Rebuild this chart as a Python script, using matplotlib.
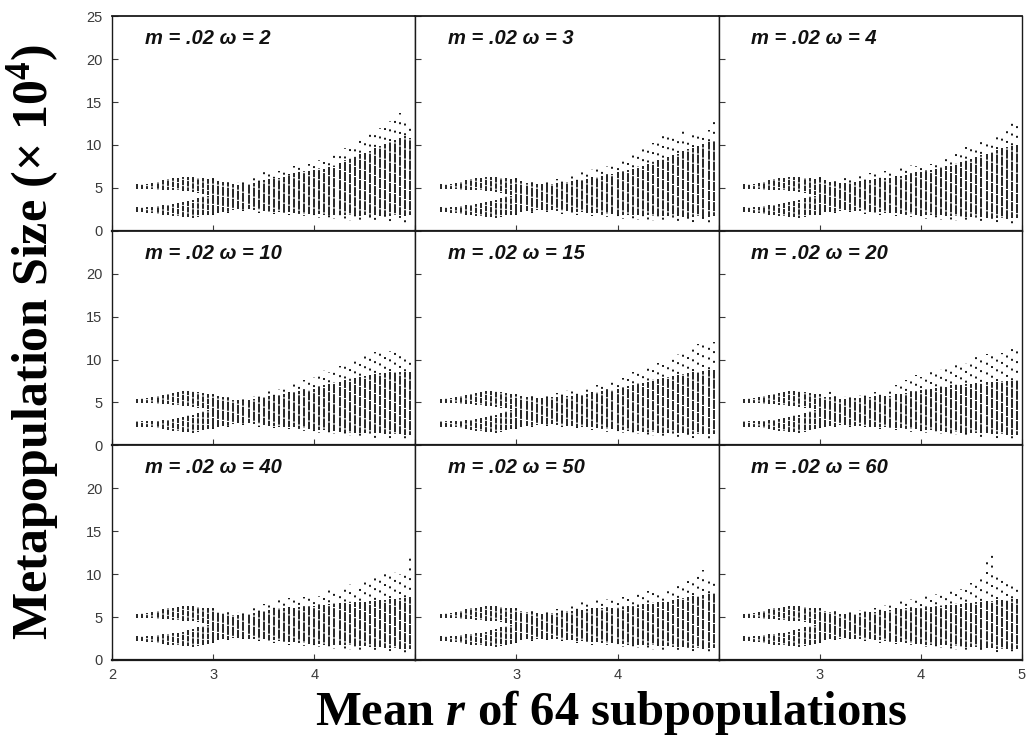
import matplotlib.pyplot as plt

plt.rcParams['mathtext.fontset'] = 'custom'
plt.rcParams['mathtext.rm'] = 'Liberation Serif:bold'
plt.rcParams['mathtext.it'] = 'Liberation Serif:italic:bold'
plt.rcParams['mathtext.bf'] = 'Liberation Serif:bold'

omegas = [2, 3, 4, 10, 15, 20, 40, 50, 60]

# left part: the two separate bands (same in every panel)
r_split = [2.25, 2.30, 2.35, 2.40, 2.45, 2.50, 2.55, 2.60, 2.65, 2.70,
           2.75, 2.80, 2.85, 2.90, 2.95]
low_band_bot = [2.2, 2.2, 2.1, 2.1, 2.0, 1.9, 1.8, 1.7, 1.7, 1.6, 1.6, 1.5, 1.6, 1.8, 1.9]
low_band_top = [2.8, 2.8, 2.8, 2.8, 2.9, 3.0, 3.0, 3.1, 3.2, 3.3, 3.5, 3.6, 3.8, 4.0, 4.1]
up_band_bot = [4.9, 4.9, 4.9, 4.9, 4.8, 4.8, 4.8, 4.7, 4.7, 4.6, 4.6, 4.5, 4.4, 4.3, 4.2]
up_band_top = [5.4, 5.5, 5.5, 5.6, 5.7, 5.9, 6.0, 6.1, 6.2, 6.3, 6.3, 6.3, 6.2, 6.1, 6.0]

# right part: one column per r value
r_main = [3.00, 3.05, 3.10, 3.15, 3.20, 3.25, 3.30, 3.35, 3.40, 3.45,
          3.50, 3.55, 3.60, 3.65, 3.70, 3.75, 3.80, 3.85, 3.90, 3.95,
          4.00, 4.05, 4.10, 4.15, 4.20, 4.25, 4.30, 4.35, 4.40, 4.45,
          4.50, 4.55, 4.60, 4.65, 4.70, 4.75, 4.80, 4.85, 4.90, 4.95]

# lo/hi = dense part of the column, bot/top = scattered extremes
lo_w2 = [2.0, 2.1, 2.2, 2.3, 2.4, 2.5, 2.5, 2.5, 2.4, 2.4, 2.3, 2.3, 2.2, 2.2, 2.2, 2.2, 2.1, 2.1, 2.0, 2.0,
         2.0, 2.0, 1.9, 1.9, 1.8, 1.9, 1.8, 1.8, 1.8, 1.7, 1.8, 1.7, 1.8, 1.7, 1.8, 1.7, 1.8, 1.8, 1.7, 1.8]
hi_w2 = [5.9, 5.8, 5.7, 5.5, 5.4, 5.3, 5.4, 5.5, 5.6, 5.7, 5.9, 6.0, 6.1, 6.2, 6.3, 6.5, 6.7, 6.8, 6.9, 7.0,
         7.1, 7.2, 7.2, 7.4, 7.6, 7.9, 8.2, 8.4, 8.7, 8.9, 9.1, 9.3, 9.6, 9.9, 10.1, 10.3, 10.6, 10.8, 11.0, 10.8]
bot_w2 = [1.9, 2.0, 2.0, 2.1, 2.2, 2.3, 2.3, 2.2, 2.2, 2.1, 2.1, 2.0, 2.0, 1.9, 1.9, 1.8, 1.8, 1.7, 1.7, 1.6,
          1.6, 1.5, 1.5, 1.4, 1.4, 1.3, 1.3, 1.2, 1.2, 1.1, 1.1, 1.0, 1.1, 1.0, 1.2, 1.0, 1.1, 1.0, 0.9, 1.0]
top_w2 = [6.2, 6.1, 5.9, 5.8, 5.7, 5.7, 5.9, 6.2, 6.4, 6.6, 6.9, 7.2, 6.8, 7.0, 7.4, 7.2, 7.5, 7.6, 7.4, 7.8,
          8.0, 8.3, 8.0, 8.6, 8.9, 9.2, 9.6, 9.9, 10.4, 10.6, 10.9, 11.3, 11.6, 12.0, 12.5, 12.8, 13.3, 13.7, 12.9, 12.4]

lo_w3 = [2.1, 2.2, 2.3, 2.3, 2.4, 2.4, 2.4, 2.4, 2.3, 2.3, 2.3, 2.2, 2.2, 2.2, 2.1, 2.1, 2.1, 2.0, 2.0, 2.0,
         1.9, 1.9, 1.9, 1.8, 1.8, 1.8, 1.8, 1.7, 1.7, 1.7, 1.7, 1.6, 1.7, 1.6, 1.6, 1.6, 1.7, 1.6, 1.6, 1.7]
hi_w3 = [5.9, 5.8, 5.6, 5.5, 5.5, 5.4, 5.5, 5.5, 5.6, 5.6, 5.7, 5.8, 5.8, 5.9, 6.0, 6.1, 6.3, 6.4, 6.5, 6.6,
         6.8, 6.9, 7.1, 7.2, 7.4, 7.6, 7.8, 8.0, 8.2, 8.4, 8.6, 8.8, 9.0, 9.3, 9.5, 9.7, 9.9, 10.1, 10.3, 10.5]
bot_w3 = [1.9, 2.0, 2.1, 2.1, 2.2, 2.2, 2.2, 2.1, 2.1, 2.0, 2.0, 1.9, 1.9, 1.8, 1.8, 1.7, 1.7, 1.6, 1.6, 1.5,
          1.5, 1.4, 1.4, 1.3, 1.3, 1.2, 1.2, 1.2, 1.1, 1.1, 1.1, 1.0, 1.0, 1.0, 0.9, 0.9, 1.0, 0.9, 0.9, 1.0]
top_w3 = [6.1, 6.4, 5.9, 5.8, 5.8, 5.7, 5.8, 5.9, 6.0, 6.0, 6.2, 6.4, 6.5, 6.8, 7.0, 7.2, 7.4, 7.5, 7.6, 7.8,
          8.0, 8.3, 8.5, 8.8, 9.3, 9.6, 10.0, 10.2, 10.6, 11.0, 11.2, 11.4, 11.2, 11.6, 11.0, 11.3, 11.0, 11.4, 11.8, 13.1]

lo_w4 = [2.1, 2.2, 2.2, 2.3, 2.3, 2.4, 2.4, 2.3, 2.3, 2.3, 2.2, 2.2, 2.2, 2.1, 2.1, 2.1, 2.0, 2.0, 2.0, 1.9,
         1.9, 1.9, 1.8, 1.8, 1.8, 1.7, 1.7, 1.7, 1.7, 1.6, 1.6, 1.6, 1.6, 1.5, 1.5, 1.5, 1.5, 1.5, 1.5, 1.5]
hi_w4 = [6.0, 5.9, 5.7, 5.6, 5.6, 5.6, 5.7, 5.7, 5.8, 5.8, 5.9, 6.0, 6.0, 6.1, 6.2, 6.3, 6.4, 6.5, 6.6, 6.8,
         6.9, 7.0, 7.1, 7.2, 7.3, 7.5, 7.6, 7.8, 8.0, 8.2, 8.4, 8.6, 8.8, 9.0, 9.2, 9.4, 9.6, 9.8, 9.9, 10.0]
bot_w4 = [1.9, 2.0, 2.0, 2.1, 2.1, 2.2, 2.2, 2.1, 2.1, 2.0, 2.0, 1.9, 1.9, 1.8, 1.8, 1.7, 1.7, 1.6, 1.6, 1.5,
          1.5, 1.4, 1.4, 1.4, 1.3, 1.3, 1.2, 1.2, 1.1, 1.1, 1.1, 1.0, 1.0, 1.0, 0.9, 0.9, 0.9, 0.9, 0.8, 0.9]
top_w4 = [6.3, 6.2, 6.0, 5.9, 6.0, 6.2, 6.6, 6.3, 6.4, 6.4, 6.7, 6.9, 6.8, 7.0, 7.1, 7.0, 7.3, 7.3, 7.7, 7.5,
          7.6, 7.9, 7.8, 8.0, 8.2, 8.5, 8.6, 9.0, 9.4, 9.8, 9.6, 10.0, 10.4, 10.3, 10.8, 11.2, 11.0, 11.6, 13.1, 12.4]

lo_w10 = [2.1, 2.2, 2.3, 2.4, 2.5, 2.6, 2.6, 2.6, 2.5, 2.5, 2.4, 2.3, 2.3, 2.2, 2.2, 2.1, 2.1, 2.0, 2.0, 1.9,
          1.9, 1.8, 1.8, 1.7, 1.7, 1.6, 1.6, 1.5, 1.5, 1.5, 1.4, 1.4, 1.4, 1.4, 1.3, 1.3, 1.3, 1.3, 1.2, 1.2]
hi_w10 = [5.8, 5.7, 5.6, 5.4, 5.3, 5.3, 5.2, 5.3, 5.4, 5.5, 5.6, 5.7, 5.8, 5.9, 6.0, 6.1, 6.2, 6.3, 6.4, 6.5,
          6.6, 6.8, 7.0, 7.1, 7.3, 7.4, 7.6, 7.7, 7.8, 8.0, 8.1, 8.2, 8.3, 8.4, 8.4, 8.5, 8.5, 8.6, 8.5, 8.6]
bot_w10 = [1.9, 2.0, 2.1, 2.2, 2.3, 2.4, 2.4, 2.3, 2.3, 2.2, 2.2, 2.1, 2.0, 2.0, 1.9, 1.9, 1.8, 1.7, 1.7, 1.6,
           1.5, 1.5, 1.4, 1.3, 1.3, 1.2, 1.2, 1.1, 1.0, 1.0, 0.9, 0.9, 0.8, 0.8, 0.9, 0.8, 0.8, 0.9, 0.8, 0.8]
top_w10 = [6.0, 5.9, 5.8, 5.6, 5.5, 5.5, 5.5, 5.6, 5.7, 5.8, 6.0, 6.3, 6.4, 6.6, 6.8, 7.0, 7.3, 7.2, 7.6, 7.8,
           8.0, 8.4, 8.8, 8.6, 9.0, 9.2, 9.4, 9.6, 9.8, 10.2, 10.4, 10.6, 10.9, 11.0, 10.8, 11.0, 10.9, 10.7, 10.9, 10.4]

lo_w15 = [2.1, 2.2, 2.3, 2.4, 2.4, 2.5, 2.5, 2.5, 2.4, 2.4, 2.3, 2.3, 2.2, 2.2, 2.1, 2.1, 2.0, 2.0, 1.9, 1.9,
          1.8, 1.8, 1.7, 1.7, 1.7, 1.6, 1.6, 1.6, 1.5, 1.5, 1.5, 1.4, 1.4, 1.4, 1.4, 1.3, 1.3, 1.3, 1.3, 1.3]
hi_w15 = [5.8, 5.7, 5.6, 5.5, 5.5, 5.5, 5.5, 5.6, 5.6, 5.7, 5.8, 5.8, 5.9, 5.9, 6.0, 6.1, 6.2, 6.3, 6.4, 6.5,
          6.6, 6.7, 6.9, 7.0, 7.2, 7.3, 7.4, 7.6, 7.7, 7.8, 8.0, 8.1, 8.2, 8.3, 8.4, 8.5, 8.6, 8.7, 8.8, 8.8]
bot_w15 = [1.9, 2.0, 2.1, 2.2, 2.2, 2.3, 2.3, 2.3, 2.2, 2.2, 2.1, 2.0, 2.0, 1.9, 1.9, 1.8, 1.7, 1.7, 1.6, 1.5,
           1.5, 1.4, 1.4, 1.3, 1.3, 1.2, 1.1, 1.1, 1.0, 1.0, 1.0, 0.9, 0.9, 0.9, 0.8, 0.8, 0.8, 0.9, 0.8, 0.8]
top_w15 = [6.0, 5.9, 5.8, 5.8, 5.8, 5.8, 5.9, 6.0, 6.1, 6.2, 6.4, 6.5, 6.6, 6.5, 6.7, 6.8, 7.0, 7.3, 7.1, 7.4,
           7.6, 7.8, 8.1, 8.5, 8.4, 8.8, 9.0, 9.2, 9.6, 9.4, 9.8, 10.1, 10.6, 11.0, 10.8, 11.4, 11.8, 12.5, 11.7, 12.1]

lo_w20 = [2.2, 2.2, 2.3, 2.3, 2.4, 2.4, 2.4, 2.3, 2.3, 2.3, 2.2, 2.2, 2.2, 2.1, 2.1, 2.0, 2.0, 2.0, 1.9, 1.9,
          1.8, 1.8, 1.8, 1.7, 1.7, 1.6, 1.6, 1.6, 1.5, 1.5, 1.5, 1.4, 1.4, 1.4, 1.3, 1.3, 1.3, 1.2, 1.2, 1.2]
hi_w20 = [5.7, 5.6, 5.6, 5.5, 5.4, 5.4, 5.4, 5.5, 5.5, 5.6, 5.6, 5.7, 5.7, 5.8, 5.8, 5.9, 6.0, 6.1, 6.2, 6.3,
          6.4, 6.5, 6.6, 6.7, 6.8, 6.9, 7.0, 7.0, 7.1, 7.2, 7.2, 7.3, 7.3, 7.4, 7.4, 7.4, 7.5, 7.5, 7.5, 7.6]
bot_w20 = [2.0, 2.0, 2.1, 2.1, 2.2, 2.2, 2.2, 2.1, 2.1, 2.1, 2.0, 2.0, 1.9, 1.9, 1.8, 1.8, 1.7, 1.7, 1.6, 1.6,
           1.5, 1.5, 1.4, 1.4, 1.3, 1.3, 1.2, 1.2, 1.1, 1.1, 1.0, 1.0, 0.9, 0.9, 0.9, 0.8, 0.8, 0.9, 0.8, 0.8]
top_w20 = [6.2, 6.0, 6.7, 5.8, 5.8, 5.7, 5.8, 6.2, 5.9, 6.0, 6.1, 6.2, 6.4, 6.3, 6.6, 7.0, 7.3, 7.6, 8.0, 8.2,
           8.0, 8.3, 8.5, 8.7, 8.9, 9.0, 9.3, 9.5, 9.8, 9.6, 10.0, 10.3, 10.1, 10.6, 10.9, 10.6, 10.8, 11.1, 12.1, 11.3]

lo_w40 = [2.2, 2.3, 2.4, 2.5, 2.6, 2.6, 2.6, 2.5, 2.5, 2.4, 2.4, 2.3, 2.3, 2.2, 2.2, 2.1, 2.1, 2.0, 2.0, 1.9,
          1.9, 1.9, 1.8, 1.8, 1.8, 1.7, 1.7, 1.7, 1.6, 1.6, 1.6, 1.5, 1.5, 1.5, 1.4, 1.4, 1.4, 1.3, 1.3, 1.3]
hi_w40 = [5.8, 5.6, 5.5, 5.4, 5.3, 5.3, 5.3, 5.4, 5.5, 5.6, 5.7, 5.8, 5.9, 6.0, 6.0, 6.1, 6.1, 6.2, 6.2, 6.3,
          6.3, 6.4, 6.4, 6.5, 6.5, 6.6, 6.6, 6.7, 6.7, 6.8, 6.8, 6.9, 6.9, 7.0, 7.0, 7.1, 7.1, 7.2, 7.2, 7.3]
bot_w40 = [2.0, 2.1, 2.2, 2.3, 2.4, 2.4, 2.4, 2.3, 2.2, 2.2, 2.1, 2.0, 2.0, 1.9, 1.9, 1.8, 1.7, 1.7, 1.6, 1.6,
           1.5, 1.5, 1.4, 1.4, 1.3, 1.3, 1.2, 1.2, 1.1, 1.1, 1.0, 1.0, 1.0, 0.9, 0.9, 0.9, 0.8, 0.9, 0.8, 0.8]
top_w40 = [6.0, 5.8, 5.7, 5.6, 5.6, 5.6, 5.7, 5.8, 6.0, 6.2, 6.5, 6.9, 6.8, 7.4, 6.9, 7.2, 7.0, 7.1, 7.3, 7.4,
           7.2, 7.5, 7.6, 8.2, 8.4, 8.0, 8.6, 8.8, 8.4, 9.0, 9.3, 9.6, 10.0, 9.6, 10.2, 9.8, 10.3, 10.0, 10.2, 12.0]

lo_w50 = [2.2, 2.3, 2.4, 2.4, 2.5, 2.5, 2.5, 2.5, 2.4, 2.4, 2.3, 2.3, 2.2, 2.2, 2.2, 2.1, 2.1, 2.0, 2.0, 2.0,
          1.9, 1.9, 1.8, 1.8, 1.8, 1.7, 1.7, 1.7, 1.6, 1.6, 1.6, 1.5, 1.5, 1.5, 1.5, 1.4, 1.4, 1.4, 1.4, 1.4]
hi_w50 = [5.8, 5.7, 5.6, 5.5, 5.5, 5.4, 5.4, 5.5, 5.5, 5.6, 5.7, 5.7, 5.8, 5.8, 5.9, 5.9, 6.0, 6.0, 6.1, 6.1,
          6.2, 6.2, 6.3, 6.3, 6.4, 6.5, 6.5, 6.6, 6.7, 6.8, 6.9, 7.0, 7.1, 7.2, 7.3, 7.4, 7.5, 7.6, 7.7, 7.8]
bot_w50 = [2.0, 2.1, 2.2, 2.2, 2.3, 2.3, 2.3, 2.3, 2.2, 2.2, 2.1, 2.1, 2.0, 2.0, 1.9, 1.8, 1.8, 1.7, 1.7, 1.6,
           1.6, 1.5, 1.5, 1.4, 1.4, 1.3, 1.3, 1.2, 1.2, 1.1, 1.1, 1.0, 1.0, 1.0, 0.9, 0.9, 0.9, 0.8, 0.9, 0.8]
top_w50 = [6.1, 5.9, 5.8, 5.7, 5.7, 5.6, 5.7, 5.8, 5.9, 6.0, 6.2, 6.3, 6.6, 6.9, 6.8, 6.7, 7.0, 6.8, 7.1, 7.0,
           7.2, 7.3, 7.6, 7.4, 7.9, 7.7, 8.0, 7.9, 8.2, 8.0, 8.4, 8.6, 8.9, 9.0, 9.3, 9.6, 10.0, 10.5, 9.8, 9.4]

lo_w60 = [2.2, 2.3, 2.4, 2.5, 2.5, 2.6, 2.6, 2.5, 2.5, 2.4, 2.4, 2.3, 2.3, 2.2, 2.2, 2.1, 2.1, 2.0, 2.0, 1.9,
          1.9, 1.8, 1.8, 1.8, 1.7, 1.7, 1.6, 1.6, 1.6, 1.5, 1.5, 1.5, 1.4, 1.4, 1.4, 1.3, 1.3, 1.3, 1.3, 1.3]
hi_w60 = [5.8, 5.7, 5.6, 5.5, 5.4, 5.4, 5.4, 5.4, 5.5, 5.5, 5.6, 5.6, 5.7, 5.7, 5.8, 5.9, 5.9, 6.0, 6.0, 6.1,
          6.1, 6.2, 6.2, 6.3, 6.3, 6.4, 6.4, 6.5, 6.5, 6.6, 6.7, 6.8, 6.8, 6.9, 6.9, 7.0, 7.0, 7.0, 7.1, 7.1]
bot_w60 = [2.0, 2.1, 2.2, 2.3, 2.3, 2.4, 2.4, 2.3, 2.3, 2.2, 2.2, 2.1, 2.0, 2.0, 1.9, 1.9, 1.8, 1.7, 1.7, 1.6,
           1.6, 1.5, 1.5, 1.4, 1.4, 1.3, 1.2, 1.2, 1.1, 1.1, 1.0, 1.0, 1.0, 0.9, 0.9, 0.8, 0.8, 0.8, 0.9, 0.8]
top_w60 = [6.0, 5.9, 5.8, 6.5, 5.6, 5.6, 5.6, 5.7, 5.8, 5.9, 6.0, 6.1, 6.3, 6.4, 6.6, 6.8, 6.9, 7.0, 7.1, 7.2,
           7.3, 7.5, 7.4, 7.7, 7.9, 7.8, 8.1, 8.0, 8.3, 8.6, 9.0, 9.3, 10.2, 11.4, 12.4, 10.5, 9.8, 9.0, 9.3, 8.7]

panels = [
    (lo_w2, hi_w2, bot_w2, top_w2), (lo_w3, hi_w3, bot_w3, top_w3), (lo_w4, hi_w4, bot_w4, top_w4),
    (lo_w10, hi_w10, bot_w10, top_w10), (lo_w15, hi_w15, bot_w15, top_w15), (lo_w20, hi_w20, bot_w20, top_w20),
    (lo_w40, hi_w40, bot_w40, top_w40), (lo_w50, hi_w50, bot_w50, top_w50), (lo_w60, hi_w60, bot_w60, top_w60),
]

fig, axes = plt.subplots(3, 3, figsize=(10.26, 7.38), dpi=100)
fig.subplots_adjust(left=0.1092, right=0.996, top=0.978, bottom=0.1057, wspace=0, hspace=0)

ink = '#151515'
tick_color = '#3a3a3a'
# staggered dot patterns so the scattered points do not line up in rows
split_styles = [(k * 0.7 % 3.0, (3.0, 0.5)) for k in range(len(r_split))]
core_styles = [(k * 1.1 % 5.0, (5.0, 0.6)) for k in range(len(r_main))]
dot_styles = [(k * 1.7 % 5.0, (1.0, 4.0)) for k in range(len(r_main))]

for i, ax in enumerate(axes.flat):
    row, col = divmod(i, 3)
    lo, hi, bot, top = panels[i]

    # bifurcated left part
    ax.vlines(r_split, low_band_bot, low_band_top, color=ink, lw=1.3, linestyles=split_styles)
    ax.vlines(r_split, up_band_bot, up_band_top, color=ink, lw=1.3, linestyles=split_styles)
    # dense core and scattered extremes
    ax.vlines(r_main, lo, hi, color=ink, lw=1.3, linestyles=core_styles)
    ax.vlines(r_main, hi, top, color=ink, lw=1.4, linestyles=dot_styles)
    ax.vlines(r_main, bot, lo, color=ink, lw=1.4, linestyles=dot_styles)

    ax.set_xlim(2, 5)
    ax.set_ylim(0, 25)

    ax.text(0.108, 0.895, f"m = .02 \u03c9 = {omegas[i]}", transform=ax.transAxes,
            fontsize=14.5, fontweight='bold', fontstyle='italic', family='Liberation Sans',
            va='center', ha='left', color='#111111')

    ax.set_xticks([2, 3, 4, 5])
    ax.set_yticks([0, 5, 10, 15, 20, 25])
    ax.tick_params(direction='in', length=4, width=0.8, color=tick_color,
                   labelsize=10.5, labelcolor=tick_color)

    if row == 2:
        if col == 0:
            ax.set_xticklabels(['2', '3', '4', ''])
        elif col == 1:
            ax.set_xticklabels(['', '3', '4', ''])
        else:
            ax.set_xticklabels(['', '3', '4', '5'])
        ax.tick_params(axis='x', pad=6)
    else:
        ax.set_xticklabels([])

    if col == 0:
        if row == 0:
            ax.set_yticklabels(['0', '5', '10', '15', '20', '25'])
        else:
            ax.set_yticklabels(['0', '5', '10', '15', '20', ''])
        ax.tick_params(axis='y', pad=7)
    else:
        ax.set_yticklabels([])

    for lab in ax.get_xticklabels() + ax.get_yticklabels():
        lab.set_family('Liberation Sans')

    ax.spines['left'].set_linewidth(1.0)
    ax.spines['right'].set_linewidth(1.0)
    ax.spines['top'].set_linewidth(1.3)
    ax.spines['bottom'].set_linewidth(1.6)
    for s in ax.spines.values():
        s.set_color('#1a1a1a')

fig.text(0.032, 0.537, r"Metapopulation Size (× 10$^{4}$)", rotation=90,
         ha='center', va='center', fontsize=36, fontweight='bold', family='Liberation Serif')
fig.text(0.596, 0.035, r"Mean $r$ of 64 subpopulations",
         ha='center', va='center', fontsize=35, fontweight='bold', family='Liberation Serif')

plt.savefig("out.png", dpi=100)
